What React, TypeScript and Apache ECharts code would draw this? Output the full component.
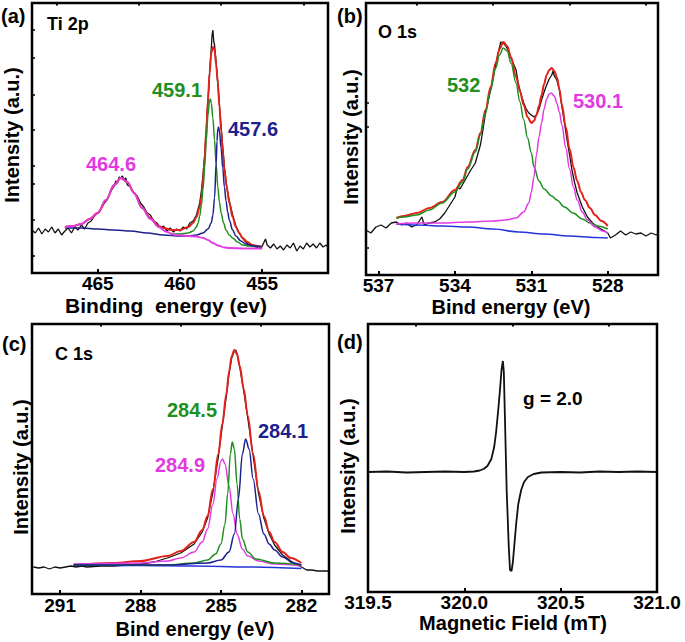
import React, { useEffect, useRef } from "react";
import * as echarts from "echarts";

// ---------------- DATA ----------------
// (a) Ti 2p  [binding energy eV, intensity a.u.]
const TI_RAW: [number, number][] = [
  [469.0, 43], [468.8, 40], [468.6, 45], [468.4, 39], [468.2, 44], [468.0, 41], [467.8, 46], [467.6, 40],
  [467.4, 44], [467.2, 38], [467.0, 42], [466.8, 45], [466.6, 40], [466.4, 46], [466.2, 43], [466.0, 48],
  [465.8, 44], [465.6, 50], [465.4, 52], [465.2, 57], [465.0, 60], [464.8, 64], [464.6, 70], [464.4, 74],
  [464.2, 82], [464.0, 87], [463.9, 92], [463.8, 90], [463.7, 96], [463.6, 95], [463.5, 97], [463.4, 93],
  [463.3, 95], [463.2, 88], [463.0, 86], [462.8, 80], [462.6, 77], [462.4, 70], [462.2, 66], [462.0, 60],
  [461.8, 58], [461.6, 52], [461.4, 50], [461.2, 45], [461.0, 47], [460.8, 42], [460.6, 45], [460.4, 41],
  [460.2, 44], [460.0, 42], [459.8, 46], [459.6, 44], [459.4, 50], [459.2, 52], [459.0, 58], [458.9, 64],
  [458.8, 70], [458.7, 82], [458.6, 98], [458.5, 118], [458.4, 145], [458.3, 172], [458.2, 200], [458.1, 224],
  [458.05, 238], [458.0, 243], [457.95, 232], [457.9, 228], [457.8, 210], [457.7, 190], [457.6, 168],
  [457.5, 146], [457.4, 126], [457.3, 106], [457.2, 92], [457.1, 80], [457.0, 72], [456.8, 58], [456.6, 47],
  [456.4, 40], [456.2, 35], [456.0, 31], [455.8, 28], [455.6, 27], [455.4, 26], [455.2, 25], [455.0, 27],
  [454.8, 34], [454.7, 28], [454.5, 25], [454.3, 29], [454.1, 24], [453.9, 27], [453.7, 23], [453.5, 28],
  [453.3, 25], [453.1, 30], [452.9, 22], [452.7, 27], [452.5, 24], [452.3, 30], [452.1, 26], [451.9, 29],
  [451.7, 25], [451.5, 30], [451.3, 26], [451.1, 28], [451.0, 25],
];
const TI_FIT: [number, number][] = [
  [467.0, 46], [466.5, 47], [466.0, 49], [465.5, 54], [465.0, 60], [464.5, 73], [464.0, 88], [463.6, 95],
  [463.2, 91], [462.8, 80], [462.3, 65], [461.8, 55], [461.3, 47], [461.0, 45], [460.5, 43], [460.0, 43],
  [459.5, 46], [459.2, 50], [459.0, 56], [458.8, 66], [458.7, 76], [458.6, 92], [458.5, 116], [458.4, 143],
  [458.3, 173], [458.2, 200], [458.1, 220], [458.0, 226], [457.9, 223], [457.8, 208], [457.7, 190],
  [457.6, 166], [457.5, 143], [457.4, 122], [457.3, 103], [457.15, 85], [457.0, 70], [456.8, 56],
  [456.6, 46], [456.4, 40], [456.2, 35], [455.9, 31], [455.6, 28], [455.3, 27], [455.0, 26],
];
const TI_GREEN: [number, number][] = [
  [460.5, 39], [460.0, 39], [459.5, 40], [459.2, 42], [459.0, 46], [458.9, 50], [458.8, 57], [458.7, 68],
  [458.6, 84], [458.5, 106], [458.4, 133], [458.3, 158], [458.2, 173], [458.15, 174], [458.1, 170],
  [458.0, 155], [457.9, 133], [457.8, 108], [457.7, 86], [457.6, 71], [457.5, 60], [457.35, 50],
  [457.2, 43], [457.0, 38], [456.8, 35], [456.5, 31], [456.2, 28], [455.8, 27], [455.0, 26],
];
const TI_BLUE: [number, number][] = [
  [467.0, 45], [466.0, 45], [465.0, 44], [464.0, 43], [463.0, 42], [462.0, 40], [461.0, 38], [460.0, 37],
  [459.5, 37], [459.0, 38], [458.6, 40], [458.3, 44], [458.1, 50], [458.0, 58], [457.9, 75], [457.8, 110],
  [457.75, 132], [457.7, 144], [457.65, 146], [457.6, 141], [457.5, 125], [457.4, 105], [457.3, 86],
  [457.2, 72], [457.1, 61], [457.0, 53], [456.8, 43], [456.6, 37], [456.3, 32], [456.0, 29], [455.5, 27],
  [455.0, 26],
];
const TI_MAG: [number, number][] = [
  [467.0, 46], [466.5, 47], [466.0, 49], [465.5, 54], [465.0, 60], [464.5, 73], [464.0, 88], [463.6, 95],
  [463.2, 91], [462.8, 80], [462.3, 65], [461.8, 54], [461.3, 46], [460.8, 41], [460.3, 38], [459.5, 37],
  [459.0, 36.5], [458.6, 35], [458.3, 33], [458.0, 30], [457.7, 27.5], [457.3, 25.5], [457.0, 25],
  [456.0, 24.5], [455.0, 24.5],
];

// (b) O 1s
const O_RAW: [number, number][] = [
  [537.5, 45], [537.3, 42], [537.1, 48], [536.9, 50], [536.7, 47], [536.5, 52], [536.3, 53], [536.1, 50],
  [535.9, 52], [535.7, 48], [535.5, 50], [535.3, 58], [535.2, 50], [535.0, 52], [534.8, 53], [534.6, 56],
  [534.4, 62], [534.2, 70], [534.0, 78], [533.9, 88], [533.8, 86], [533.6, 95], [533.4, 104], [533.2, 112],
  [533.0, 130], [532.9, 145], [532.8, 162], [532.6, 185], [532.4, 210], [532.3, 222], [532.2, 233],
  [532.1, 232], [532.0, 229], [531.9, 224], [531.8, 217], [531.6, 205], [531.5, 190], [531.4, 180],
  [531.3, 172], [531.2, 166], [531.1, 162], [531.0, 160], [530.9, 158], [530.8, 160], [530.7, 166],
  [530.6, 175], [530.5, 183], [530.4, 190], [530.3, 196], [530.2, 200], [530.15, 204], [530.1, 199],
  [530.0, 195], [529.9, 185], [529.8, 168], [529.7, 152], [529.6, 135], [529.5, 120], [529.4, 104],
  [529.3, 92], [529.2, 82], [529.0, 68], [528.8, 58], [528.6, 52], [528.4, 48], [528.2, 45], [528.0, 42],
  [527.9, 37], [527.7, 40], [527.5, 44], [527.3, 40], [527.1, 43], [526.9, 41], [526.7, 42], [526.5, 39],
  [526.3, 42], [526.1, 40], [526.0, 42],
];
const O_FIT: [number, number][] = [
  [536.3, 57], [536.0, 59], [535.5, 62], [535.0, 67], [534.5, 73], [534.0, 85], [533.7, 95], [533.5, 108],
  [533.2, 125], [533.0, 142], [532.8, 165], [532.6, 188], [532.4, 212], [532.25, 226], [532.1, 233],
  [531.95, 229], [531.8, 218], [531.6, 198], [531.45, 184], [531.3, 170], [531.15, 158], [531.0, 152],
  [530.9, 154], [530.8, 160], [530.7, 169], [530.6, 180], [530.5, 191], [530.4, 200], [530.3, 205],
  [530.2, 207], [530.1, 204], [530.0, 198], [529.9, 186], [529.8, 170], [529.65, 148], [529.5, 126],
  [529.35, 108], [529.2, 94], [529.05, 83], [528.9, 75], [528.7, 67], [528.5, 60], [528.25, 54], [528.0, 49],
];
const O_GREEN: [number, number][] = [
  [536.3, 57], [536.0, 58], [535.5, 60], [535.0, 65], [534.5, 72], [534.0, 83], [533.7, 93], [533.5, 106],
  [533.2, 123], [533.0, 140], [532.8, 162], [532.6, 185], [532.4, 207], [532.25, 220], [532.1, 227],
  [531.95, 224], [531.8, 212], [531.6, 192], [531.45, 173], [531.3, 155], [531.15, 137], [531.0, 122],
  [530.9, 108], [530.7, 94], [530.5, 86], [530.2, 79], [530.0, 75], [529.7, 68], [529.36, 62], [529.0, 56],
  [528.7, 52], [528.4, 49], [528.0, 46],
];
const O_MAG: [number, number][] = [
  [536.3, 51], [535.5, 52], [534.5, 52], [533.5, 53], [532.5, 54], [532.0, 55], [531.6, 57], [531.3, 63],
  [531.1, 72], [531.0, 83], [530.9, 98], [530.8, 120], [530.7, 138], [530.6, 152], [530.5, 166],
  [530.4, 176], [530.3, 181], [530.22, 182], [530.1, 179], [530.0, 172], [529.9, 163], [529.8, 150],
  [529.65, 127], [529.5, 106], [529.35, 88], [529.2, 75], [529.0, 63], [528.8, 55], [528.5, 48],
  [528.2, 44], [528.0, 42],
];
const O_BG: [number, number][] = [
  [536.3, 51], [535.5, 50], [534.5, 49], [533.5, 48], [532.5, 46], [531.5, 43], [530.5, 41], [529.5, 39],
  [528.5, 37.5], [528.0, 37],
];

// (c) C 1s
const C_RAW: [number, number][] = [
  [292.0, 27], [291.8, 26], [291.6, 27], [291.4, 25], [291.2, 27], [291.0, 26], [290.8, 27], [290.6, 28],
  [290.4, 27], [290.2, 28], [290.0, 27], [289.5, 28], [289.0, 28], [288.5, 29], [288.0, 30], [287.5, 32],
  [287.0, 36], [286.5, 41], [286.0, 50], [285.7, 62], [285.5, 76], [285.3, 102], [285.1, 137],
  [284.95, 168], [284.8, 198], [284.7, 220], [284.6, 236], [284.5, 243], [284.45, 244], [284.4, 240],
  [284.3, 227], [284.15, 203], [284.0, 176], [283.8, 138], [283.6, 101], [283.4, 76], [283.2, 60],
  [283.0, 49], [282.7, 39], [282.4, 33], [282.0, 27], [281.8, 24], [281.6, 24], [281.4, 23], [281.2, 23],
  [281.0, 23],
];
const C_FIT: [number, number][] = [
  [290.5, 29], [289.0, 31], [288.0, 33], [287.0, 38], [286.5, 43], [286.0, 52], [285.7, 64], [285.5, 78],
  [285.3, 105], [285.1, 140], [284.95, 170], [284.8, 200], [284.7, 222], [284.6, 238], [284.5, 244],
  [284.4, 240], [284.3, 228], [284.15, 205], [284.0, 178], [283.8, 140], [283.6, 103], [283.4, 78],
  [283.2, 62], [283.0, 52], [282.7, 42], [282.4, 36], [282.0, 31],
];
const C_MAG: [number, number][] = [
  [290.5, 30], [288.0, 31], [287.0, 33], [286.5, 36], [286.0, 42], [285.7, 52], [285.5, 65], [285.3, 90],
  [285.15, 115], [285.0, 133], [284.94, 135], [284.85, 130], [284.7, 108], [284.55, 80], [284.4, 60],
  [284.2, 45], [284.0, 38], [283.6, 33], [283.0, 30], [282.0, 28],
];
const C_GREEN: [number, number][] = [
  [290.5, 29], [287.0, 29], [286.0, 31], [285.5, 34], [285.2, 40], [285.0, 50], [284.85, 70], [284.75, 100],
  [284.65, 140], [284.58, 152], [284.5, 145], [284.4, 110], [284.3, 75], [284.2, 55], [284.0, 42],
  [283.7, 35], [283.0, 31], [282.0, 29],
];
const C_BLUE: [number, number][] = [
  [290.5, 29], [287.0, 29], [285.5, 31], [285.0, 34], [284.7, 42], [284.5, 60], [284.35, 95], [284.2, 140],
  [284.08, 155], [283.95, 145], [283.8, 115], [283.6, 80], [283.4, 60], [283.2, 50], [283.0, 44],
  [282.7, 37], [282.3, 31], [282.0, 29],
];
const C_BG: [number, number][] = [
  [290.5, 29], [288.0, 28.5], [286.0, 28], [284.0, 27], [282.0, 25.5],
];

// (d) EPR  [magnetic field mT, intensity a.u.]
const EPR: [number, number][] = [
  [319.5, 120], [319.6, 120.5], [319.7, 119.5], [319.8, 120], [319.9, 120.5], [320.0, 120],
  [320.05, 120.5], [320.08, 121.5], [320.1, 123], [320.12, 126], [320.14, 133], [320.155, 145],
  [320.165, 160], [320.175, 180], [320.185, 202], [320.193, 222], [320.2, 231], [320.205, 220],
  [320.21, 180], [320.215, 140], [320.22, 100], [320.225, 75], [320.23, 48], [320.237, 22],
  [320.245, 21], [320.252, 30], [320.26, 48], [320.27, 70], [320.28, 88], [320.295, 102],
  [320.31, 110], [320.33, 115], [320.36, 118], [320.4, 119.5], [320.5, 120], [320.6, 119.5],
  [320.7, 120.5], [320.8, 120], [320.9, 120.5], [321.0, 120],
];

// tick values
const A_MAJOR = [465, 460, 455];
const A_MINOR = [467.5, 462.5, 457.5, 452.5];
const B_MAJOR = [537, 534, 531, 528];
const B_MINOR = [535.5, 532.5, 529.5, 526.5];
const C_MAJOR = [291, 288, 285, 282];
const C_MINOR = [289.5, 286.5, 283.5];
const D_MAJOR = [319.5, 320.0, 320.5, 321.0];
const D_MINOR = [319.75, 320.25, 320.75];
const A_YTICKS = [17, 53, 89, 107, 143, 178, 215, 243];
const B_YTICKS = [27, 148, 172];

// ---------------- STYLE ----------------
const FONT = '"Liberation Sans", Arial, Helvetica, sans-serif';
const BLACK = "#111111";
const RED = "#e3221b";
const GREEN = "#1f8f22";
const NAVY = "#1c218c";
const MAG = "#e23ae2";
const BGBLUE = "#2434d8";

const GRIDS = [
  { left: 32, top: 3, width: 296, height: 270 },
  { left: 366, top: 3, width: 292, height: 272 },
  { left: 32, top: 324, width: 297, height: 270 },
  { left: 368, top: 324, width: 289, height: 268 },
];

function xAxesFor(gi: number, min: number, max: number, inverse: boolean, major: number[], minor: number[], margin: number, fmt?: (v: number) => string) {
  return [
    {
      type: "value", gridIndex: gi, min, max, inverse,
      axisLine: { show: false },
      splitLine: { show: false },
      axisTick: { show: true, inside: true, length: 4, lineStyle: { color: "#000", width: 2 }, customValues: major },
      axisLabel: {
        customValues: major, margin, color: "#000", fontSize: 19, fontWeight: "bold", fontFamily: FONT,
        lineHeight: 14,
        formatter: fmt ? fmt : (v: number) => String(v),
      },
    },
    {
      type: "value", gridIndex: gi, min, max, inverse,
      axisLine: { show: false },
      splitLine: { show: false },
      axisTick: { show: true, inside: true, length: 2.5, lineStyle: { color: "#000", width: 2 }, customValues: minor },
      axisLabel: { show: false },
    },
  ];
}

function yAxisFor(gi: number, max: number, ticks: number[]) {
  return {
    type: "value", gridIndex: gi, min: 0, max,
    axisLine: { show: false },
    splitLine: { show: false },
    axisLabel: { show: false },
    axisTick: ticks.length
      ? { show: true, inside: true, length: 3, lineStyle: { color: "#000", width: 1.5 }, customValues: ticks }
      : { show: false },
  };
}

function line(name: string, gi: number, data: [number, number][], color: string, width: number, smooth: boolean) {
  return {
    name, type: "line", xAxisIndex: gi * 2, yAxisIndex: gi, data,
    symbol: "none", showSymbol: false, silent: true,
    smooth: smooth ? 0.35 : false,
    smoothMonotone: smooth ? "x" : undefined,
    lineStyle: { color, width },
  };
}

function txt(text: string, x: number, y: number, fill: string, size: number, align = "left", rotation = 0, lh = 0) {
  const style: any = {
    text, fill, font: `bold ${size}px ${FONT}`,
    align, textAlign: align, verticalAlign: "middle", textVerticalAlign: "middle",
  };
  if (lh) style.lineHeight = lh;
  return { type: "text", x, y, rotation, silent: true, style };
}

export default function App() {
  const ref = useRef<HTMLDivElement>(null);
  useEffect(() => {
    if (!ref.current) return;
    const chart = echarts.init(ref.current, null, { renderer: "svg", width: 685, height: 642 });
    const option: any = {
      animation: false,
      backgroundColor: "#ffffff",
      grid: GRIDS.map((g) => ({ ...g, show: true, borderColor: "#000", borderWidth: 2.5, backgroundColor: "transparent" })),
      xAxis: [
        ...xAxesFor(0, 451, 469, true, A_MAJOR, A_MINOR, 3),
        ...xAxesFor(1, 526.03, 537.49, true, B_MAJOR, B_MINOR, 3),
        ...xAxesFor(2, 280.97, 292.05, true, C_MAJOR, C_MINOR, 4),
        ...xAxesFor(3, 319.5, 321.0, false, D_MAJOR, D_MINOR, 3, (v: number) => v.toFixed(1)),
      ],
      yAxis: [
        yAxisFor(0, 270, A_YTICKS),
        yAxisFor(1, 272, B_YTICKS),
        yAxisFor(2, 270, []),
        yAxisFor(3, 268, []),
      ],
      series: [
        line("Ti raw", 0, TI_RAW, BLACK, 1.3, false),
        line("Ti fit", 0, TI_FIT, RED, 2, true),
        line("Ti 459.1", 0, TI_GREEN, GREEN, 1.5, true),
        line("Ti 457.6", 0, TI_BLUE, NAVY, 1.5, true),
        line("Ti 464.6", 0, TI_MAG, MAG, 1.8, true),

        line("O raw", 1, O_RAW, BLACK, 1.3, false),
        line("O fit", 1, O_FIT, RED, 2, true),
        line("O bg", 1, O_BG, BGBLUE, 1.5, true),
        line("O 532", 1, O_GREEN, GREEN, 1.5, true),
        line("O 530.1", 1, O_MAG, MAG, 1.5, true),

        line("C raw", 2, C_RAW, BLACK, 1.3, false),
        line("C fit", 2, C_FIT, RED, 2, true),
        line("C bg", 2, C_BG, BGBLUE, 1.5, true),
        line("C 284.9", 2, C_MAG, MAG, 1.5, true),
        line("C 284.5", 2, C_GREEN, GREEN, 1.5, true),
        line("C 284.1", 2, C_BLUE, NAVY, 1.5, true),

        line("EPR", 3, EPR, BLACK, 1.8, false),
      ],
      graphic: [
        txt("(a)", 1, 16, "#000", 20),
        txt("(b)", 337, 16, "#000", 20),
        txt("(c)", 2, 344, "#000", 20),
        txt("(d)", 337, 342, "#000", 20),
        txt("Ti 2p", 47, 24, "#000", 18),
        txt("O 1s", 378, 32, "#000", 18),
        txt("C 1s", 55, 354, "#000", 18),
        txt("g = 2.0", 523, 398, "#000", 19),
        txt("459.1", 152, 90, GREEN, 20),
        txt("457.6", 228, 129, NAVY, 20),
        txt("464.6", 86, 164, MAG, 20),
        txt("532", 447, 85, GREEN, 20),
        txt("530.1", 573, 101, MAG, 20),
        txt("284.5", 167, 410, GREEN, 20),
        txt("284.1", 258, 431, NAVY, 20),
        txt("284.9", 155, 465, MAG, 20),
        txt("Binding  energy (ev)", 166, 305, "#000", 21, "center", 0, 14),
        txt("Bind energy (eV)", 511, 307, "#000", 20, "center", 0, 14),
        txt("Bind energy (eV)", 195, 629, "#000", 20, "center", 0, 14),
        txt("Magnetic Field (mT)", 513, 623, "#000", 20, "center", 0, 14),
        txt("Intensity (a.u.)", 12, 135, "#000", 20, "center", Math.PI / 2),
        txt("Intensity (a.u.)", 351, 137, "#000", 20, "center", Math.PI / 2),
        txt("Intensity (a.u.)", 21, 467, "#000", 20, "center", Math.PI / 2),
        txt("Intensity (a.u.)", 348, 466, "#000", 20, "center", Math.PI / 2),
      ],
    };
    chart.setOption(option);
    return () => chart.dispose();
  }, []);
  return <div ref={ref} style={{ position: "absolute", left: 0, top: 0, width: 685, height: 642 }} />;
}
